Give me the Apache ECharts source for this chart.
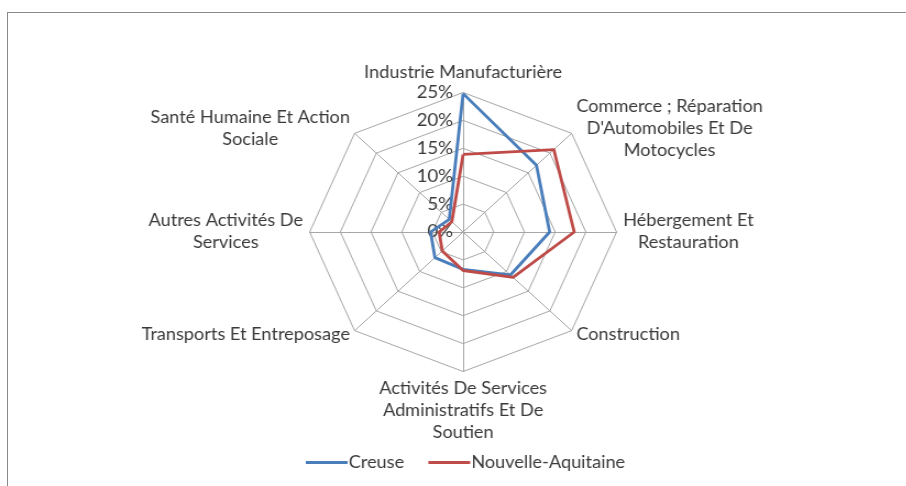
<!DOCTYPE html>
<html>
<head>
<meta charset="utf-8">
<script src="https://cdn.jsdelivr.net/npm/echarts@6/dist/echarts.min.js"></script>
<style>
  html, body { margin: 0; padding: 0; background: #fff; overflow: hidden; }
  #frame { position: absolute; left: 7px; top: 12px; width: 960px; height: 520px; border: 1px solid #8a8a8a; box-sizing: border-box; }
  /* chart is drawn on a narrower canvas and widened horizontally */
  #chart { position: absolute; left: 0; top: 0; width: 824px; height: 486px; transform: scaleX(1.1); transform-origin: 0 0; }
</style>
</head>
<body>
<div id="frame"></div>
<div id="chart"></div>
<script>
// Sectors, in clockwise order starting from the top
const categories = [
  "Industrie Manufacturière",
  "Commerce ; Réparation\nD'Automobiles Et De\nMotocycles",
  "Hébergement Et\nRestauration",
  "Construction",
  "Activités De Services\nAdministratifs Et De\nSoutien",
  "Transports Et Entreposage",
  "Autres Activités De\nServices",
  "Santé Humaine Et Action\nSociale"
];

// Share of employment by sector (%)
const creuse = [24.8, 16.9, 14.1, 10.9, 6.7, 6.5, 5.3, 3.2];
const nouvelleAquitaine = [13.9, 20.9, 18.1, 11.5, 6.9, 4.8, 3.9, 2.6];

const seriesNames = ["Creuse", "Nouvelle-Aquitaine"];
const seriesColors = ["#4a7ebb", "#be4b48"];

// Radial scale
const axisMin = 0;
const axisMax = 25;
const axisSteps = 5;

// ECharts lays indicators out counter-clockwise; reverse all but the first
const order = [0].concat(categories.map((_, i) => i).slice(1).reverse());
const pick = arr => order.map(i => arr[i]);

const FONT = 'Lato, "Liberation Sans", sans-serif';
const TEXT = '#3a3a3a';
const FS = 16.5;

const indicator = pick(categories).map((name, k) => ({
  name: name,
  min: axisMin,
  max: axisMax,
  axisLabel: k === 0
    ? { show: true, formatter: '{value}%', color: TEXT, fontSize: 17, fontFamily: FONT, margin: 9 }
    : { show: false }
}));

const chart = echarts.init(document.getElementById('chart'), null, { renderer: 'canvas' });
chart.setOption({
  animation: false,
  backgroundColor: 'transparent',
  color: seriesColors,
  legend: {
    left: 273,
    top: 449,
    itemWidth: 38,
    itemHeight: 3,
    itemGap: 22,
    icon: 'rect',
    textStyle: { color: TEXT, fontSize: FS, fontFamily: FONT, padding: [0, 0, 0, -4] },
    data: seriesNames
  },
  radar: {
    center: [421, 232],
    radius: 139.5,
    shape: 'polygon',
    splitNumber: axisSteps,
    axisNameGap: 6,
    axisName: {
      color: TEXT,
      fontSize: FS,
      fontFamily: FONT,
      lineHeight: 22,
      formatter: name => name.split('\n').map(l => '{c|' + l + '}').join('\n'),
      rich: {
        c: { align: 'center', color: TEXT, fontSize: FS, fontFamily: FONT, lineHeight: 22 }
      }
    },
    axisLine: { lineStyle: { color: '#a6a6a6', width: 1 } },
    splitLine: { lineStyle: { color: '#a6a6a6', width: 1 } },
    splitArea: { show: false },
    axisTick: { show: false },
    indicator: indicator
  },
  series: [{
    type: 'radar',
    symbol: 'none',
    data: [
      { name: seriesNames[0], value: pick(creuse), lineStyle: { color: seriesColors[0], width: 2.8 } },
      { name: seriesNames[1], value: pick(nouvelleAquitaine), lineStyle: { color: seriesColors[1], width: 2.8 } }
    ]
  }]
});
</script>
</body>
</html>
